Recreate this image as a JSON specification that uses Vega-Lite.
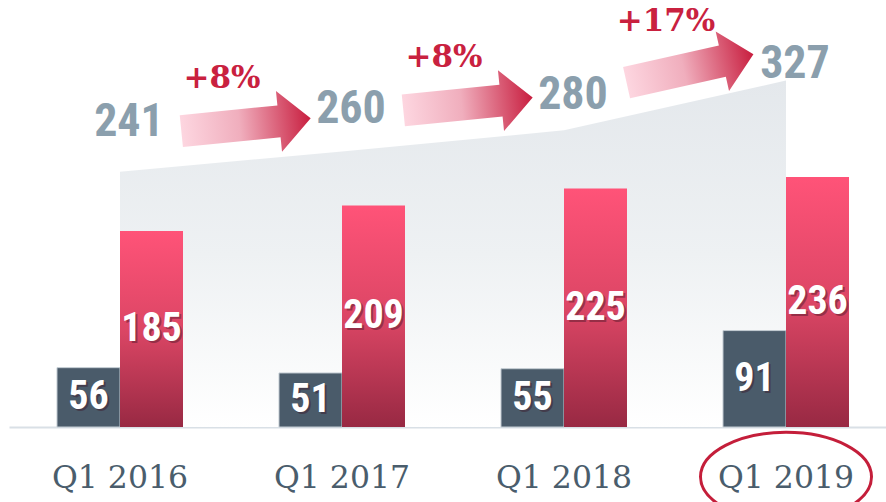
{
  "$schema": "https://vega.github.io/schema/vega-lite/v6.json",
  "width": 888,
  "height": 427,
  "autosize": {"type": "none"},
  "padding": {"left": 9, "top": 0, "right": 0, "bottom": 75},
  "background": "white",
  "config": {
    "view": {"stroke": null},
    "axisX": {
      "title": null,
      "grid": false,
      "ticks": false,
      "tickSize": 0,
      "labelAngle": 0,
      "labelFont": "DejaVu Serif",
      "labelFontSize": 31.5,
      "labelColor": "#4a5d6c",
      "labelPadding": 60,
      "labelBaseline": "alphabetic",
      "domainColor": "#d9e0e6",
      "domainWidth": 2
    }
  },
  "datasets": {
    "bars": [
      {"q": "Q1 2016", "series": "a", "value": 56},
      {"q": "Q1 2016", "series": "b", "value": 185},
      {"q": "Q1 2017", "series": "a", "value": 51},
      {"q": "Q1 2017", "series": "b", "value": 209},
      {"q": "Q1 2018", "series": "a", "value": 55},
      {"q": "Q1 2018", "series": "b", "value": 225},
      {"q": "Q1 2019", "series": "a", "value": 91},
      {"q": "Q1 2019", "series": "b", "value": 236}
    ],
    "totals": [
      {"q": "Q1 2016", "total": 241},
      {"q": "Q1 2017", "total": 260},
      {"q": "Q1 2018", "total": 280},
      {"q": "Q1 2019", "total": 327}
    ],
    "growth": [
      {"q": "Q1 2016", "pct": "+8%", "growth": 8, "from_total": 241, "to_total": 260},
      {"q": "Q1 2017", "pct": "+8%", "growth": 8, "from_total": 260, "to_total": 280},
      {"q": "Q1 2018", "pct": "+17%", "growth": 17, "from_total": 280, "to_total": 327}
    ],
    "highlight": [
      {"q": "Q1 2019"}
    ]
  },
  "layer": [
    {
      "data": {"name": "totals"},
      "mark": {
        "type": "area",
        "color": {
          "gradient": "linear", "x1": 0, "y1": 0, "x2": 0, "y2": 1,
          "stops": [
            {"offset": 0, "color": "#e4e8ec"},
            {"offset": 0.5, "color": "#eef1f3"},
            {"offset": 1, "color": "#ffffff"}
          ]
        }
      },
      "encoding": {
        "x": {"field": "q", "type": "nominal", "scale": {"paddingInner": 0.4324, "paddingOuter": 0.2162}},
        "y": {"field": "total", "type": "quantitative", "scale": {"domain": [0, 403], "nice": false, "zero": true}, "axis": null}
      }
    },
    {
      "data": {"name": "bars"},
      "transform": [{"filter": "datum.series == 'a'"}],
      "mark": {"type": "bar", "color": "#4a5b6a", "stroke": "#c3ccd3", "strokeWidth": 1},
      "encoding": {
        "x": {"field": "q", "type": "nominal"},
        "xOffset": {"field": "series", "type": "nominal", "scale": {"domain": ["a", "b"], "paddingInner": 0, "paddingOuter": 0}},
        "y": {"field": "value", "type": "quantitative", "scale": {"domain": [0, 403], "nice": false}, "axis": null}
      }
    },
    {
      "data": {"name": "bars"},
      "transform": [{"filter": "datum.series == 'b'"}],
      "mark": {
        "type": "bar",
        "color": {
          "gradient": "linear", "x1": 0, "y1": 0, "x2": 0, "y2": 1,
          "stops": [
            {"offset": 0, "color": "#ff5378"},
            {"offset": 0.5, "color": "#dc4665"},
            {"offset": 1, "color": "#982943"}
          ]
        }
      },
      "encoding": {
        "x": {"field": "q", "type": "nominal"},
        "xOffset": {"field": "series", "type": "nominal", "scale": {"domain": ["a", "b"], "paddingInner": 0, "paddingOuter": 0}},
        "y": {"field": "value", "type": "quantitative", "scale": {"domain": [0, 403], "nice": false}, "axis": null}
      }
    },
    {
      "data": {"name": "bars"},
      "mark": {"type": "text", "font": "Roboto Condensed, Liberation Sans Narrow, Liberation Sans, sans-serif", "fontWeight": "bold", "fontSize": 40, "baseline": "middle", "align": "center", "color": "#3a1020", "opacity": 0.4, "dx": 2, "dy": 2},
      "encoding": {
        "x": {"field": "q", "type": "nominal"},
        "xOffset": {"field": "series", "type": "nominal", "scale": {"domain": ["a", "b"], "paddingInner": 0, "paddingOuter": 0}},
        "y": {"field": "value", "type": "quantitative", "scale": {"domain": [0, 806], "nice": false}, "axis": null},
        "text": {"field": "value"}
      }
    },
    {
      "data": {"name": "bars"},
      "mark": {"type": "text", "font": "Roboto Condensed, Liberation Sans Narrow, Liberation Sans, sans-serif", "fontWeight": "bold", "fontSize": 40, "baseline": "middle", "align": "center", "color": "#ffffff"},
      "encoding": {
        "x": {"field": "q", "type": "nominal"},
        "xOffset": {"field": "series", "type": "nominal", "scale": {"domain": ["a", "b"], "paddingInner": 0, "paddingOuter": 0}},
        "y": {"field": "value", "type": "quantitative", "scale": {"domain": [0, 806], "nice": false}, "axis": null},
        "text": {"field": "value"}
      }
    },
    {
      "data": {"name": "totals"},
      "mark": {"type": "text", "font": "Roboto Condensed, Liberation Sans Narrow, Liberation Sans, sans-serif", "fontWeight": "bold", "fontSize": 46, "baseline": "alphabetic", "align": "center", "color": "#8b9fad", "dx": 9},
      "encoding": {
        "x": {"field": "q", "type": "nominal"},
        "y": {"field": "total", "type": "quantitative", "scale": {"domain": [-187, 441], "nice": false, "zero": false}, "axis": null},
        "text": {"field": "total"}
      }
    },
    {
      "data": {"name": "growth"},
      "transform": [
        {"fold": ["from_total", "to_total"], "as": ["k", "v"]},
        {"aggregate": [{"op": "mean", "field": "v", "as": "mid"}], "groupby": ["q", "pct", "growth"]}
      ],
      "mark": {
        "type": "point",
        "shape": "M-1,-0.246L0.51,-0.246L0.51,-0.47L1,0L0.51,0.47L0.51,0.246L-1,0.246Z",
        "size": 16900,
        "filled": true,
        "opacity": 1,
        "strokeWidth": 0,
        "fill": {
          "gradient": "linear", "x1": 0, "y1": 0, "x2": 1, "y2": 0,
          "stops": [
            {"offset": 0, "color": "#fdd6e0"},
            {"offset": 0.45, "color": "#f0aebd"},
            {"offset": 1, "color": "#c81e3f"}
          ]
        }
      },
      "encoding": {
        "x": {"field": "q", "type": "nominal", "bandPosition": 1.5},
        "y": {"field": "mid", "type": "quantitative", "scale": {"domain": [-34.9, 368.1], "nice": false, "zero": false}, "axis": null},
        "angle": {"field": "growth", "type": "quantitative", "scale": {"domain": [8, 17], "range": [354.3, 347.4]}, "legend": null}
      }
    },
    {
      "data": {"name": "growth"},
      "transform": [
        {"fold": ["from_total", "to_total"], "as": ["k", "v"]},
        {"aggregate": [{"op": "mean", "field": "v", "as": "mid"}], "groupby": ["q", "pct", "growth"]}
      ],
      "mark": {"type": "text", "font": "DejaVu Serif", "fontWeight": "bold", "fontSize": 31, "baseline": "middle", "align": "center", "color": "#c9213f", "dx": -24, "dy": -83},
      "encoding": {
        "x": {"field": "q", "type": "nominal", "bandPosition": 1.5},
        "y": {"field": "mid", "type": "quantitative", "scale": {"domain": [0, 403], "nice": false}, "axis": null},
        "text": {"field": "pct"}
      }
    },
    {
      "data": {"name": "highlight"},
      "mark": {
        "type": "point",
        "shape": "M-1,0C-1,-0.2872 -0.5523,-0.52 0,-0.52C0.5523,-0.52 1,-0.2872 1,0C1,0.2872 0.5523,0.52 0,0.52C-0.5523,0.52 -1,0.2872 -1,0Z",
        "size": 29241,
        "filled": false,
        "stroke": "#c41e3a",
        "strokeWidth": 3,
        "opacity": 1
      },
      "encoding": {
        "x": {"field": "q", "type": "nominal"},
        "y": {"datum": -47, "type": "quantitative", "scale": {"domain": [0, 403], "nice": false}, "axis": null}
      }
    }
  ],
  "resolve": {"scale": {"y": "independent"}}
}
